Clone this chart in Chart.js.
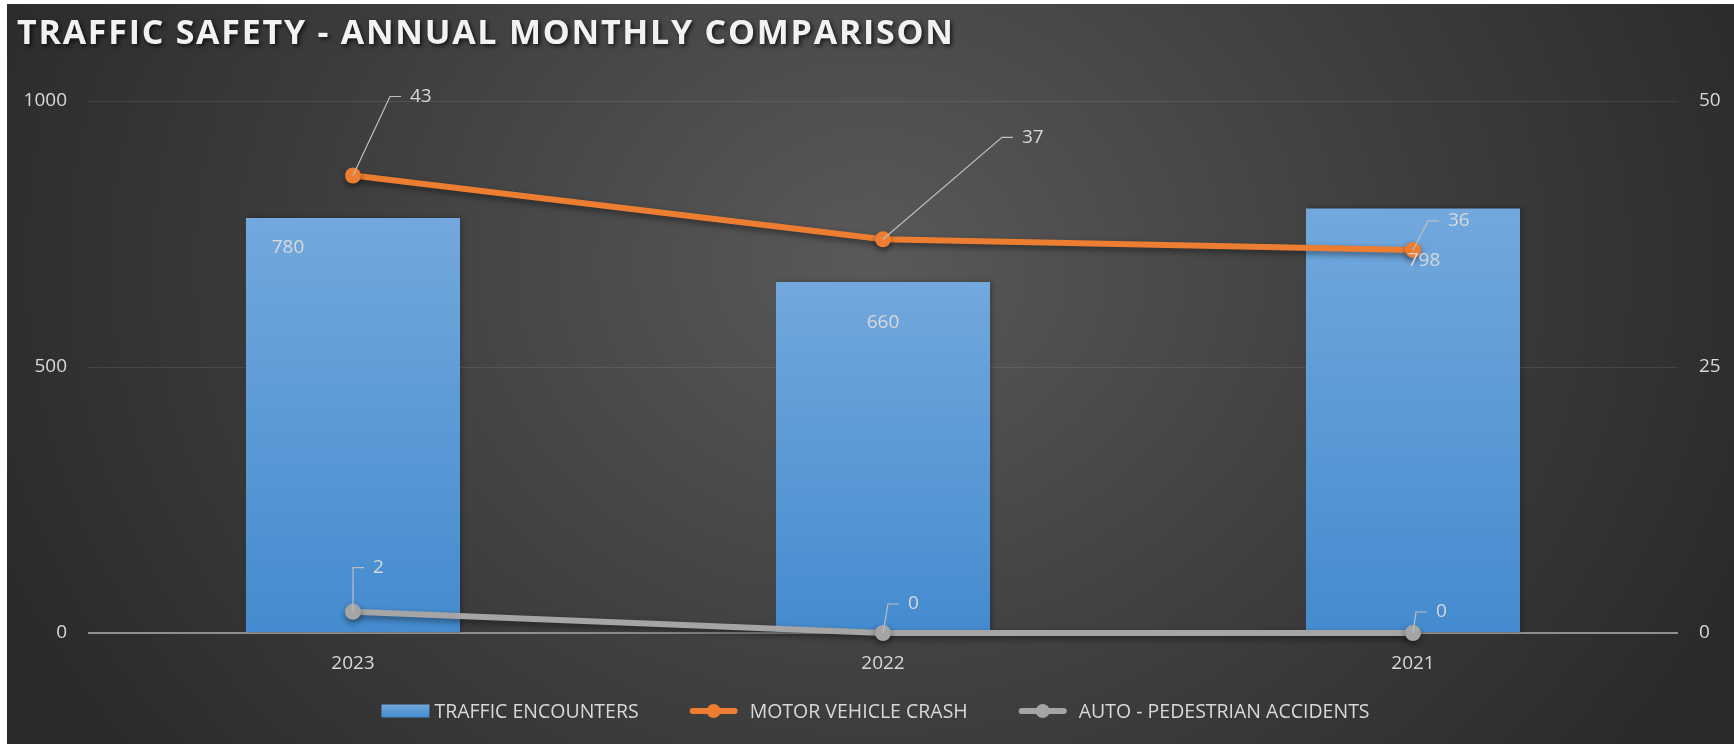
<!DOCTYPE html>
<html>
<head>
<meta charset="utf-8">
<title>Traffic Safety - Annual Monthly Comparison</title>
<script src="https://cdn.jsdelivr.net/npm/chart.js@4"></script>
<style>
  html, body { margin: 0; padding: 0; background: #fff; }
  .chart-box {
    position: absolute;
    left: 7px;
    top: 4px;
    width: 1727px;
    height: 740px;
    background: radial-gradient(ellipse 55% 110% at 50% 35%, #595959 0%, #3c3c3c 60%, #2a2a2a 100%);
  }
</style>
</head>
<body>
<div class="chart-box"><canvas id="trafficChart"></canvas></div>
<script>
const years = ['2023', '2022', '2021'];
const trafficEncounters = [780, 660, 798];
const motorVehicleCrash = [43, 37, 36];
const autoPedestrian = [2, 0, 0];
const leftTicks = [0, 500, 1000];
const rightTicks = [0, 25, 50];

// Hand-placed label nudges (px), as in the original sheet
const barLabelNudge = [[-65, 30], [0, 41], [11, 52]];
const crashLabelNudge = [[37, -79], [119, -102], [15, -29]];
const pedLabelNudge = [[0, -44], [5, -29], [3, -21]];

const TEXT = '#d9d9d9';
const FONT = '"Open Sans", sans-serif';

const barGradient = (c, top, bottom) => {
  const g = c.createLinearGradient(0, top, 0, bottom);
  g.addColorStop(0, '#72a8dd');
  g.addColorStop(1, '#448bcf');
  return g;
};

// Each bar gets its own top-to-bottom gradient
const barFill = (ctx) => {
  const chart = ctx.chart;
  if (!chart.chartArea || ctx.dataIndex === undefined) return '#5b9bd5';
  const y = chart.scales.y;
  return barGradient(chart.ctx,
    y.getPixelForValue(trafficEncounters[ctx.dataIndex]),
    y.getPixelForValue(0));
};

// Soft drop shadows under bars and lines
const shadows = {
  id: 'shadows',
  beforeDatasetDraw(chart, args) {
    const c = chart.ctx;
    c.save();
    if (args.meta.type === 'line') {
      c.shadowColor = 'rgba(0,0,0,0.45)';
      c.shadowBlur = 6;
      c.shadowOffsetY = 3;
    } else {
      c.shadowColor = 'rgba(0,0,0,0.35)';
      c.shadowBlur = 5;
      c.shadowOffsetX = 2;
    }
  },
  afterDatasetDraw(chart) {
    chart.ctx.restore();
  }
};

// Value labels, with leader lines for the two line series
const valueLabels = {
  id: 'valueLabels',
  afterDatasetsDraw(chart) {
    const c = chart.ctx;
    c.save();
    c.font = '19px ' + FONT;
    c.fillStyle = TEXT;
    c.textBaseline = 'middle';

    chart.getDatasetMeta(0).data.forEach((bar, i) => {
      const [dx, dy] = barLabelNudge[i];
      c.textAlign = 'center';
      c.fillText(trafficEncounters[i], bar.x + dx, bar.y + dy);
    });

    [[1, motorVehicleCrash, crashLabelNudge], [2, autoPedestrian, pedLabelNudge]].forEach(([idx, values, nudges]) => {
      chart.getDatasetMeta(idx).data.forEach((pt, i) => {
        const [dx, dy] = nudges[i];
        const ex = pt.x + dx;
        const ey = pt.y + dy;
        c.strokeStyle = '#bfbfbf';
        c.lineWidth = 1.2;
        c.beginPath();
        c.moveTo(pt.x, pt.y);
        c.lineTo(ex, ey);
        c.lineTo(ex + 11, ey);
        c.stroke();
        c.textAlign = 'left';
        c.fillText(values[i], ex + 20, ey);
      });
    });
    c.restore();
  }
};

// Title with a drop shadow
const titleText = {
  id: 'titleText',
  afterDraw(chart) {
    const c = chart.ctx;
    const text = 'TRAFFIC SAFETY - ANNUAL MONTHLY COMPARISON';
    c.save();
    c.font = 'bold 34px ' + FONT;
    const natural = c.measureText(text).width;
    c.letterSpacing = ((936 - natural) / (text.length - 1)) + 'px';
    c.fillStyle = '#f2f2f2';
    c.textBaseline = 'middle';
    c.textAlign = 'left';
    c.shadowColor = 'rgba(0,0,0,0.7)';
    c.shadowBlur = 4;
    c.shadowOffsetX = 2;
    c.shadowOffsetY = 2;
    c.fillText(text, 10, 30);
    c.restore();
  }
};

// Legend along the bottom: bar swatch, line-with-dot icons
const bottomLegend = {
  id: 'bottomLegend',
  afterDraw(chart) {
    const c = chart.ctx;
    c.save();
    c.font = '19.5px ' + FONT;
    c.textBaseline = 'middle';
    c.textAlign = 'left';
    const iconW = 48;
    const gap = 51;
    const items = chart.data.datasets.map(ds => {
      const pad = ds.type === 'bar' ? 5 : 12;
      return { ds, pad, w: iconW + pad + c.measureText(ds.label).width };
    });
    const total = items.reduce((s, it) => s + it.w, 0) + gap * (items.length - 1);
    let x = chart.width / 2 - total / 2 + 5;
    const y = 707;
    items.forEach(({ ds, pad, w }) => {
      if (ds.type === 'bar') {
        c.fillStyle = barGradient(c, y - 6.5, y + 6.5);
        c.fillRect(x, y - 6.5, iconW, 13);
      } else {
        c.strokeStyle = ds.borderColor;
        c.lineWidth = 6;
        c.lineCap = 'round';
        c.beginPath();
        c.moveTo(x + 3, y);
        c.lineTo(x + iconW - 3, y);
        c.stroke();
        c.fillStyle = ds.borderColor;
        c.beginPath();
        c.arc(x + iconW / 2, y, 7, 0, Math.PI * 2);
        c.fill();
      }
      c.fillStyle = TEXT;
      c.fillText(ds.label, x + iconW + pad, y + 1);
      x += w + gap;
    });
    c.restore();
  }
};

const tickFont = { family: FONT, size: 19 };

new Chart(document.getElementById('trafficChart'), {
  data: {
    labels: years,
    datasets: [
      {
        type: 'bar',
        label: 'TRAFFIC ENCOUNTERS',
        data: trafficEncounters,
        yAxisID: 'y',
        backgroundColor: barFill,
        categoryPercentage: 1,
        barPercentage: 0.404,
        order: 3,
      },
      {
        type: 'line',
        label: 'MOTOR VEHICLE CRASH',
        data: motorVehicleCrash,
        yAxisID: 'y1',
        borderColor: '#ed7d31',
        backgroundColor: '#ed7d31',
        borderWidth: 6,
        pointRadius: 8,
        pointBorderWidth: 0,
        pointHoverRadius: 8,
        tension: 0,
        clip: false,
        order: 2,
      },
      {
        type: 'line',
        label: 'AUTO - PEDESTRIAN ACCIDENTS',
        data: autoPedestrian,
        yAxisID: 'y1',
        borderColor: '#a5a5a5',
        backgroundColor: '#a5a5a5',
        borderWidth: 6,
        pointRadius: 8,
        pointBorderWidth: 0,
        pointHoverRadius: 8,
        tension: 0,
        clip: false,
        order: 1,
      },
    ]
  },
  options: {
    responsive: true,
    maintainAspectRatio: false,
    animation: false,
    layout: { padding: { top: 97, left: 0, right: 0, bottom: 0 } },
    plugins: {
      legend: { display: false },
      title: { display: false },
      tooltip: { enabled: false },
    },
    scales: {
      x: {
        grid: { display: false, drawTicks: false },
        border: { display: false },
        ticks: { color: TEXT, font: tickFont, padding: 19 },
        afterFit: s => { s.height = 111; },
      },
      y: {
        position: 'left',
        min: 0,
        max: 1000,
        afterBuildTicks: s => { s.ticks = leftTicks.map(v => ({ value: v })); },
        afterFit: s => { s.width = 81; },
        grid: {
          color: ctx => ctx.tick && ctx.tick.value === 0 ? '#8f8f8f' : 'rgba(255,255,255,0.09)',
          lineWidth: ctx => ctx.tick && ctx.tick.value === 0 ? 2 : 1,
          drawTicks: false,
        },
        border: { display: false },
        ticks: { color: TEXT, font: tickFont, padding: 21, callback: v => String(v) },
      },
      y1: {
        position: 'right',
        min: 0,
        max: 50,
        afterBuildTicks: s => { s.ticks = rightTicks.map(v => ({ value: v })); },
        afterFit: s => { s.width = 56; },
        grid: { display: false, drawTicks: false },
        border: { display: false },
        ticks: { color: TEXT, font: tickFont, padding: 21, callback: v => String(v) },
      },
    }
  },
  plugins: [shadows, valueLabels, titleText, bottomLegend]
});
</script>
</body>
</html>
